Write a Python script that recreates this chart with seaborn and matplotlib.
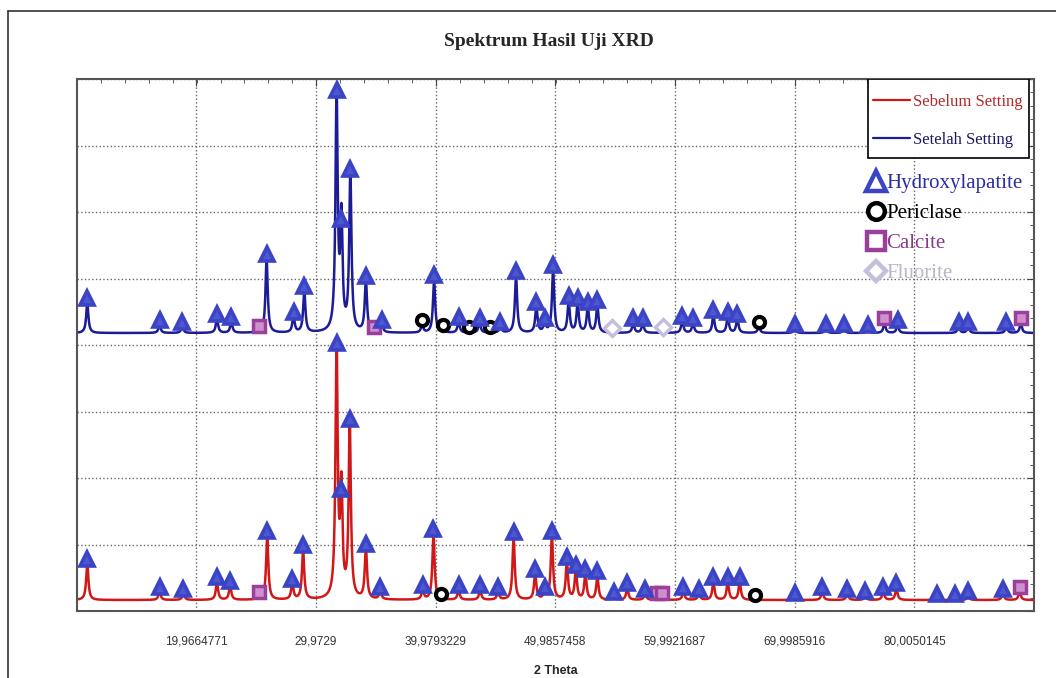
import numpy as np
import pandas as pd
import matplotlib
matplotlib.use("Agg")
import matplotlib.pyplot as plt
import seaborn as sns
from matplotlib.lines import Line2D
from matplotlib.patches import Rectangle
from matplotlib import ticker

# ---------------- data ----------------
# 2-theta tick labels
tick_pos = [19.9664771, 29.9729, 39.9793229, 49.9857458, 59.9921687, 69.9985916, 80.0050145]
tick_lbl = ["19,9664771", "29,9729", "39,9793229", "49,9857458", "59,9921687", "69,9985916", "80,0050145"]

# Setelah Setting (upper, blue): peak position, intensity, phase
blue_pos = [10.86, 16.9, 18.8, 21.7, 22.9, 25.2, 25.85, 28.1, 29.0, 31.7, 32.1, 32.85, 34.15, 34.8, 35.5,
            38.85, 39.85, 40.6, 41.9, 42.8, 43.65, 44.5, 45.4, 46.7, 48.4, 49.1, 49.8, 51.1, 51.85, 52.7,
            53.5, 54.7, 56.5, 57.3, 59.0, 60.6, 61.5, 63.2, 64.4, 65.2, 67.0, 70.0, 72.6, 74.1, 76.1,
            77.5, 78.6, 83.7, 84.5, 87.7, 88.9]
blue_int = [0.45, 0.12, 0.10, 0.22, 0.17, 0.03, 1.12, 0.25, 0.63, 3.58, 1.65, 2.40, 0.79, 0.02, 0.12,
            0.12, 0.80, 0.05, 0.17, 0.02, 0.16, 0.02, 0.10, 0.87, 0.40, 0.15, 0.95, 0.48, 0.45, 0.40,
            0.42, 0.00, 0.15, 0.15, 0.02, 0.19, 0.15, 0.27, 0.25, 0.22, 0.10, 0.07, 0.07, 0.07, 0.05,
            0.15, 0.12, 0.10, 0.10, 0.10, 0.15]
blue_phase = ["H", "H", "H", "H", "H", "C", "H", "H", "H", "H", "H", "H", "H", "C", "H",
              "P", "H", "P", "H", "P", "H", "P", "H", "H", "H", "H", "H", "H", "H", "H",
              "H", "F", "H", "H", "F", "H", "H", "H", "H", "H", "P", "H", "H", "H", "H",
              "C", "H", "H", "H", "H", "C"]

# Sebelum Setting (lower, red)
red_pos = [10.86, 16.9, 18.9, 21.7, 22.8, 25.2, 25.9, 28.0, 28.9, 31.7, 32.1, 32.8, 34.15, 35.35,
           38.9, 39.8, 40.45, 41.9, 43.7, 45.2, 46.5, 48.3, 49.1, 49.7, 50.95, 51.7, 52.5, 53.5,
           54.9, 56.0, 57.5, 58.5, 58.9, 60.7, 62.0, 63.2, 64.4, 65.4, 66.7, 70.0, 72.3, 74.4, 75.9,
           77.4, 78.5, 81.9, 83.4, 84.5, 87.4, 88.8]
red_int = [0.55, 0.13, 0.10, 0.27, 0.22, 0.05, 0.97, 0.25, 0.75, 3.80, 1.60, 2.65, 0.78, 0.13,
           0.15, 1.00, 0.02, 0.15, 0.15, 0.12, 0.95, 0.40, 0.13, 0.97, 0.58, 0.45, 0.40, 0.36,
           0.05, 0.18, 0.10, 0.03, 0.03, 0.13, 0.10, 0.28, 0.28, 0.28, 0.00, 0.03, 0.13, 0.10, 0.06,
           0.13, 0.18, 0.02, 0.02, 0.06, 0.10, 0.13]
red_phase = ["H", "H", "H", "H", "H", "C", "H", "H", "H", "H", "H", "H", "H", "H",
             "H", "H", "P", "H", "H", "H", "H", "H", "H", "H", "H", "H", "H", "H",
             "H", "H", "H", "C", "C", "H", "H", "H", "H", "H", "P", "H", "H", "H", "H",
             "H", "H", "H", "H", "H", "H", "C"]

blue_base = 4.18
red_base = 0.165

# ---------------- styling ----------------
sns.set_style("white")
plt.rcParams["font.family"] = ["Liberation Serif", "DejaVu Serif"]

RED = "#d01818"
NAVY = "#1c1c96"
HCOL = "#3a44c4"
PCOL = "#000000"
CCOL = "#9a3f9a"
FCOL = "#c4c0dc"

phase_style = {
    "H": dict(marker="^", markersize=10, mfc="#4d57d2", mec=HCOL, mew=2.6),
    "P": dict(marker="o", markersize=8, mfc="white", mec=PCOL, mew=3.0),
    "C": dict(marker="s", markersize=9, mfc="#cf8fcf", mec=CCOL, mew=2.5),
    "F": dict(marker="D", markersize=8, mfc="white", mec=FCOL, mew=2.5),
}


def trace(theta, pos, inten, base, g=0.11):
    y = np.full_like(theta, base)
    for p, h in zip(pos, inten):
        y += h / (1.0 + ((theta - p) / g) ** 2)
    return y


theta = np.linspace(10, 90, 8001)
df = pd.DataFrame({
    "theta": np.concatenate([theta, theta]),
    "I": np.concatenate([trace(theta, red_pos, red_int, red_base),
                         trace(theta, blue_pos, blue_int, blue_base)]),
    "series": ["Sebelum Setting"] * len(theta) + ["Setelah Setting"] * len(theta),
})

fig = plt.figure(figsize=(10.56, 6.78), dpi=100)
ax = fig.add_axes([77 / 1056, 1 - 611 / 678, (1034 - 77) / 1056, (611 - 79) / 678])

sns.lineplot(data=df, x="theta", y="I", hue="series",
             palette={"Sebelum Setting": RED, "Setelah Setting": NAVY},
             estimator=None, sort=False, linewidth=1.8, ax=ax, legend=False)

# phase markers
for pos, inten, ph, base in [(red_pos, red_int, red_phase, red_base),
                             (blue_pos, blue_int, blue_phase, blue_base)]:
    for key in ["C", "F", "P", "H"]:
        xs = [p for p, k in zip(pos, ph) if k == key]
        ys = [base + h + 0.07 for h, k in zip(inten, ph) if k == key]
        if xs:
            ax.plot(xs, ys, linestyle="none", zorder=5, **phase_style[key])

ax.set_xlim(10, 90)
ax.set_ylim(0, 8)
ax.xaxis.set_major_locator(ticker.FixedLocator(tick_pos))
ax.xaxis.set_major_formatter(ticker.FixedFormatter(tick_lbl))
ax.xaxis.set_minor_locator(ticker.MultipleLocator(2))
ax.yaxis.set_major_locator(ticker.MultipleLocator(1))
ax.yaxis.set_minor_locator(ticker.MultipleLocator(0.2))
ax.set_yticklabels([])
ax.tick_params(axis="both", which="both", direction="in", top=True, right=True,
               colors="#444444")
ax.tick_params(axis="both", which="major", length=5)
ax.tick_params(axis="both", which="minor", length=3)
ax.tick_params(axis="x", which="major", pad=18, labelsize=8.5, labelcolor="#333333")
for lab in ax.get_xticklabels():
    lab.set_family(["Liberation Sans", "DejaVu Sans"])
ax.grid(True, which="major", linestyle=":", color="#666666", linewidth=1.0)
for s in ax.spines.values():
    s.set_color("#555555")
    s.set_linewidth(1.5)
ax.set_ylabel("")
ax.set_xlabel("2 Theta", fontsize=9, fontweight="bold", family=["Liberation Sans", "DejaVu Sans"],
              labelpad=12)

# legend 1: series (frame drawn separately)
ax.add_patch(Rectangle((0.8265, 0.8515), 0.9948 - 0.8265, 1.0 - 0.8515, transform=ax.transAxes,
                       facecolor="white", edgecolor="black", linewidth=1.2, zorder=6))
h1 = [Line2D([], [], color=RED, lw=1.6), Line2D([], [], color=NAVY, lw=1.6)]
leg1 = ax.legend(h1, ["Sebelum Setting", "Setelah Setting"], loc="upper left",
                 bbox_to_anchor=(0.8265 + 5 / 957, 0.972), borderaxespad=0, frameon=False,
                 fontsize=12, handlelength=2.2, handletextpad=0.2, labelspacing=1.3, borderpad=0)
leg1.set_zorder(7)
leg1.get_texts()[0].set_color("#b02a2a")
leg1.get_texts()[1].set_color("#1a1a60")
ax.add_artist(leg1)

# legend 2: phases
h2 = [Line2D([], [], linestyle="none", marker="^", markersize=14, mfc="white", mec=HCOL, mew=3.2),
      Line2D([], [], linestyle="none", marker="o", markersize=12, mfc="white", mec=PCOL, mew=3.2),
      Line2D([], [], linestyle="none", marker="s", markersize=13, mfc="white", mec=CCOL, mew=3.2),
      Line2D([], [], linestyle="none", marker="D", markersize=10, mfc="white", mec=FCOL, mew=3.2)]
leg2 = ax.legend(h2, ["Hydroxylapatite", "Periclase", "Calcite", "Fluorite"], loc="upper left",
                 bbox_to_anchor=(0.825, 0.822), borderaxespad=0, frameon=False, fontsize=15,
                 handlelength=0.9, handletextpad=0.05, labelspacing=0.5, borderpad=0)
for t, c in zip(leg2.get_texts(), ["#2a2ea0", "#000000", "#8a3a8a", "#b8b6c8"]):
    t.set_color(c)

fig.text(549 / 1056, 1 - 41 / 678, "Spektrum Hasil Uji XRD", ha="center", va="center",
         fontsize=14, fontweight="bold")

# outer frame (left & top)
fig.add_artist(Line2D([8 / 1056, 8 / 1056], [0, 1 - 11 / 678], transform=fig.transFigure,
                      color="#333333", lw=1.2))
fig.add_artist(Line2D([8 / 1056, 1], [1 - 11 / 678, 1 - 11 / 678], transform=fig.transFigure,
                      color="#333333", lw=1.2))

fig.savefig("out.png", dpi=100, facecolor="white")
